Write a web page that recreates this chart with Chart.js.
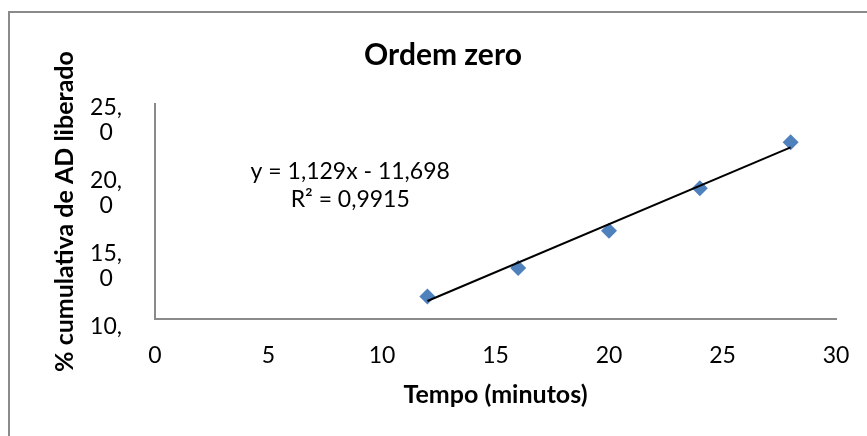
<!DOCTYPE html>
<html>
<head>
<meta charset="utf-8">
<script src="https://cdn.jsdelivr.net/npm/chart.js@4/dist/chart.umd.min.js"></script>
<style>
html,body{margin:0;padding:0;background:#fff;}
#wrap{width:867px;height:436px;position:relative;}
</style>
</head>
<body>
<div id="wrap"><canvas id="c" width="867" height="436"></canvas></div>
<script>
// Data
const tempo = [12, 16, 20, 24, 28];
const liberado = [12.89, 14.86, 17.42, 20.34, 23.50];
const trendX = [12, 28];
const trendY = [12.59, 23.15];
const xTicks = [0, 5, 10, 15, 20, 25, 30];
const yTicks = [10, 15, 20, 25];
const yTickLabels = [['10,', ''], ['15,', '0'], ['20,', '0'], ['25,', '0']];
const equationLines = ['y = 1,129x - 11,698', 'R\u00b2 = 0,9915'];
const equationAt = {x: 8.6, y: [21.5, 19.55]};

const FONT = "Lato, 'Open Sans', sans-serif";
const GRAY = '#8a8a8a';

const framePlugin = {
  id: 'frame',
  beforeDraw(chart) {
    const ctx = chart.ctx;
    ctx.save();
    ctx.fillStyle = '#fff';
    ctx.fillRect(0, 0, chart.width, chart.height);
    ctx.strokeStyle = GRAY;
    ctx.lineWidth = 2;
    ctx.beginPath();
    ctx.moveTo(9, chart.height + 2);
    ctx.lineTo(9, 12);
    ctx.lineTo(chart.width + 2, 12);
    ctx.stroke();
    ctx.restore();
  }
};

const equationPlugin = {
  id: 'equation',
  afterDatasetsDraw(chart) {
    const ctx = chart.ctx;
    const xs = chart.scales.x, ys = chart.scales.y;
    ctx.save();
    ctx.fillStyle = '#000';
    ctx.font = "23px " + FONT;
    ctx.textAlign = 'center';
    ctx.textBaseline = 'middle';
    equationLines.forEach((t, i) => {
      ctx.fillText(t, xs.getPixelForValue(equationAt.x), ys.getPixelForValue(equationAt.y[i]));
    });
    ctx.restore();
  }
};

new Chart(document.getElementById('c'), {
  type: 'scatter',
  data: {
    datasets: [
      {
        label: 'Linear',
        type: 'line',
        data: trendX.map((x, i) => ({x, y: trendY[i]})),
        borderColor: '#000',
        borderWidth: 2,
        pointRadius: 0,
        fill: false
      },
      {
        label: '% cumulativa',
        data: tempo.map((x, i) => ({x, y: liberado[i]})),
        pointStyle: 'rectRot',
        pointRadius: 8,
        pointBackgroundColor: '#4f81bd',
        pointBorderColor: '#4f81bd',
        pointBorderWidth: 0
      }
    ]
  },
  options: {
    responsive: false,
    animation: false,
    layout: {padding: {left: 50, right: 31, top: 0, bottom: 26}},
    plugins: {
      legend: {display: false},
      tooltip: {enabled: false},
      title: {
        display: true,
        text: 'Ordem zero',
        color: '#000',
        font: {family: FONT, size: 30, weight: 'bold', lineHeight: 1.2},
        padding: {top: 37, bottom: 31}
      }
    },
    scales: {
      x: {
        type: 'linear',
        min: 0,
        max: 30,
        grid: {display: false, drawTicks: false},
        border: {display: true, color: GRAY, width: 2},
        afterBuildTicks(axis) { axis.ticks = xTicks.map(v => ({value: v})); },
        afterFit(axis) { axis.height = 91; axis.paddingLeft = 0; axis.paddingRight = 0; },
        ticks: {
          color: '#000',
          padding: 23,
          maxRotation: 0,
          font: {family: FONT, size: 23, lineHeight: 1.2},
          callback: (v) => String(v)
        },
        title: {
          display: true,
          text: 'Tempo (minutos)',
          color: '#000',
          font: {family: FONT, size: 25, weight: 'bold', lineHeight: 1.2},
          padding: {top: 0, bottom: 0}
        }
      },
      y: {
        type: 'linear',
        min: 11.35,
        max: 26.13,
        grid: {display: false, drawTicks: false},
        border: {display: true, color: GRAY, width: 2},
        afterBuildTicks(axis) { axis.ticks = yTicks.map(v => ({value: v})); },
        afterFit(axis) { axis.width = 105; },
        ticks: {
          color: '#000',
          padding: 33,
          crossAlign: 'center',
          font: {family: FONT, size: 23, lineHeight: 1.09},
          callback: (v) => yTickLabels[yTicks.indexOf(v)]
        },
        title: {
          display: true,
          text: '% cumulativa de AD liberado',
          color: '#000',
          font: {family: FONT, size: 25, weight: 'bold', lineHeight: 1.2},
          padding: {top: 0, bottom: 0}
        }
      }
    }
  },
  plugins: [framePlugin, equationPlugin]
});
</script>
</body>
</html>
